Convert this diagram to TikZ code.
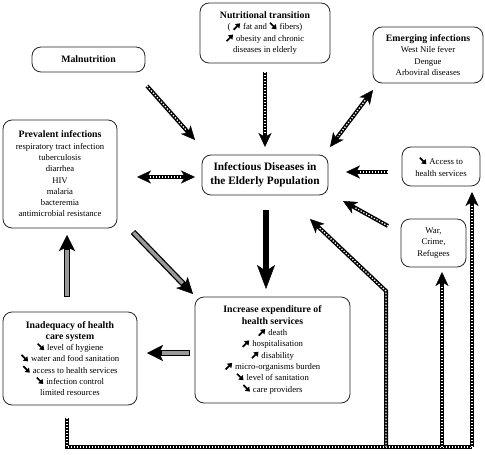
\documentclass[tikz,border=0pt]{standalone}
\usepackage{fontspec}
\setmainfont{Liberation Serif}
\usetikzlibrary{arrows.meta}
\newcommand\incr{\tikz[baseline=0pt,x=1pt,y=1pt]{\draw[draw=black,line width=1.7pt,sharp corners,solid,
  -{Triangle[length=4.2pt,width=6pt]}] (0.5,0) -- (7,6.5);}}
\newcommand\decr{\tikz[baseline=0pt,x=1pt,y=1pt]{\draw[draw=black,line width=1.7pt,sharp corners,solid,
  -{Triangle[length=4.2pt,width=6pt]}] (0.5,7) -- (7,0.5);}}
\newcommand\hd[1]{{\fontsize{9.8}{11.3}\selectfont\bfseries #1}}
\begin{document}
\begin{tikzpicture}[x=1pt,y=-1pt,
  box/.style={draw=black!85, line width=0.8pt, rounded corners=9pt, align=center, inner sep=0pt,
    font=\fontsize{8.7}{11.3}\selectfont},
  tipc/.tip={Stealth[length=14pt,width=13pt,inset=4pt,line width=0.4pt]},
  chainline/.style={line width=4pt, draw=black,
    postaction={draw=white, line width=1.3pt, arrows=-, dash pattern=on 1.3pt off 1.7pt}},
  chainarr/.style={line width=4pt, draw=black, -tipc,
    postaction={draw=white, line width=1.3pt, arrows=-, dash pattern=on 1.3pt off 1.7pt, shorten >=13pt}},
  chainboth/.style={line width=4pt, draw=black, tipc-tipc,
    postaction={draw=white, line width=1.3pt, arrows=-, dash pattern=on 1.3pt off 1.7pt, shorten >=13pt, shorten <=13pt}},
  greyarr/.style={line width=6pt, draw=black, -{Stealth[length=16pt,width=16pt,inset=4pt,line width=0.4pt]},
    postaction={draw=black!40, line width=3.4pt, arrows=-, shorten >=15pt, shorten <=0.8pt}},
  blackarr/.style={line width=6pt, draw=black, -{Stealth[length=24pt,width=18pt,inset=6pt,line width=0.4pt]}}
]
\useasboundingbox (0,0) rectangle (485,455);

\node[box, minimum width=113pt, minimum height=25pt] (mal) at (88.5,59.5) {\hd{Malnutrition}};
\node[box, minimum width=130pt, minimum height=60pt] (nut) at (265,33)
  {\hd{Nutritional transition}\\( \incr\ fat and \decr\ fibers)\\\incr\ obesity and chronic\\diseases in elderly};
\node[box, minimum width=110pt, minimum height=56pt] (emg) at (428,55)
  {\hd{Emerging infections}\\West Nile fever\\Dengue\\Arboviral diseases};
\node[box, minimum width=114pt, minimum height=108pt] (prev) at (60,174)
  {\hd{Prevalent infections}\\respiratory tract infection\\tuberculosis\\diarrhea\\HIV\\malaria\\bacteremia\\antimicrobial resistance};
\node[box, minimum width=126pt, minimum height=40pt, font=\fontsize{11.3}{14}\selectfont\bfseries] (cen) at (265,175)
  {Infectious Diseases in\\the Elderly Population};
\node[box, minimum width=78pt, minimum height=39pt] (acc) at (441,166.5) {\decr\ Access to\\health services};
\node[box, minimum width=65pt, minimum height=48pt] (war) at (433.5,243) {War,\\Crime,\\Refugees};
\node[box, minimum width=155pt, minimum height=106pt] (inc) at (272.5,350)
  {\hd{Increase expenditure of}\\\hd{health services}\\\incr\ death\\\incr\ hospitalisation\\\incr\ disability\\\incr\ micro-organisms burden\\\decr\ level of sanitation\\\decr\ care providers};
\node[box, minimum width=134pt, minimum height=93pt] (inad) at (70,358.5)
  {\hd{Inadequacy of health}\\\hd{care system}\\\decr\ level of hygiene\\\decr\ water and food sanitation\\\decr\ access to health services\\\decr\ infection control\\limited resources};

% connector end points
\coordinate (malA) at (147,86);   \coordinate (malB) at (195,140);
\coordinate (nutA) at (265,72);   \coordinate (nutB) at (265,147);
\coordinate (emgA) at (373,90);   \coordinate (emgB) at (330,147);
\coordinate (prvA) at (137,177);  \coordinate (prvB) at (195,177);
\coordinate (accA) at (388,172);  \coordinate (accB) at (346,172);
\coordinate (warA) at (388,226);  \coordinate (warB) at (343,201);
\coordinate (lBot) at (67,447);   \coordinate (lTop) at (67,418);
\coordinate (mBot) at (386,447);  \coordinate (mBend) at (386,291); \coordinate (mTip) at (310,219);
\coordinate (wBot) at (442,447);  \coordinate (wTip) at (442,272);
\coordinate (rBot) at (472,447);  \coordinate (rTip) at (472,192);
\coordinate (ciA) at (266,210);   \coordinate (ciB) at (266,289);
\coordinate (piA) at (133,232);   \coordinate (piB) at (193,294);
\coordinate (ipA) at (67,297);    \coordinate (ipB) at (67,235);
\coordinate (iiA) at (190,353);   \coordinate (iiB) at (147,353);

% chain connectors
\draw[chainarr] (malA) -- (malB);
\draw[chainarr] (nutA) -- (nutB);
\draw[chainboth] (emgA) -- (emgB);
\draw[chainboth] (prvA) -- (prvB);
\draw[chainarr] (accA) -- (accB);
\draw[chainarr] (warA) -- (warB);
\draw[chainline] (lTop) -- (lBot) -- (rBot);
\draw[chainarr] (mBot) -- (mBend) -- (mTip);
\draw[chainarr] (wBot) -- (wTip);
\draw[chainarr] (rBot) -- (rTip);

% solid connectors
\draw[blackarr] (ciA) -- (ciB);
\draw[greyarr] (piA) -- (piB);
\draw[greyarr] (ipA) -- (ipB);
\draw[greyarr] (iiA) -- (iiB);
\end{tikzpicture}
\end{document}
